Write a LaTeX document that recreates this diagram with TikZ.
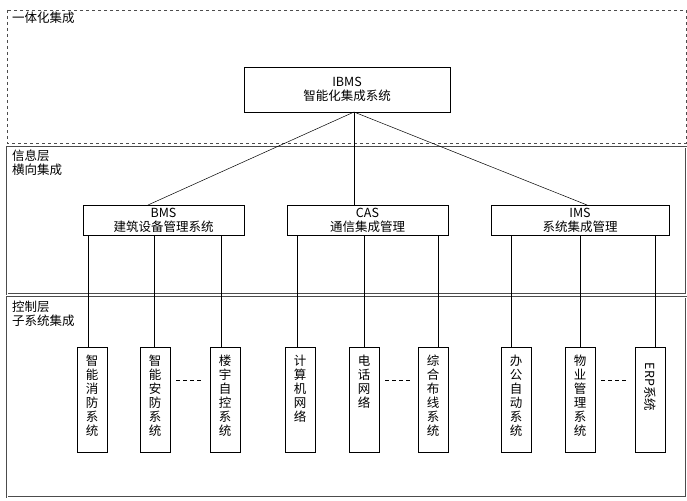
\documentclass[tikz,border=0pt]{standalone}
\usepackage{fontspec}
\newfontfamily\cjk{Noto Sans CJK SC}
\begin{document}
\begin{tikzpicture}[x=1pt,y=-1pt,font=\cjk\fontsize{12.5}{14}\selectfont,
 box/.style={draw,line width=0.6pt,inner sep=0pt,align=center},
 sub/.style={box,minimum width=30pt,minimum height=105pt,anchor=north},
 lay/.style={draw,line width=0.6pt,gray!60!black},
 lab/.style={anchor=north west,inner sep=0pt,align=left},
 con/.style={line width=0.5pt}]
\useasboundingbox (0,0) rectangle (687,500);
\draw[lay,dashed,line width=0.8pt] (7,10) rectangle (686,143);
\draw[lay,double,double distance=0.8pt] (7,147) rectangle (686,294);
\draw[lay,double,double distance=0.8pt] (7,297) rectangle (686,497);
\node[lab] (l1) at (12,12) {一体化集成};
\node[lab] (l2) at (12,150) {信息层\\横向集成};
\node[lab] (l3) at (12,301) {控制层\\子系统集成};
\node[box,minimum width=206pt,minimum height=45pt] (ibms) at (347,89.5) {IBMS\\智能化集成系统};
\node[box,minimum width=161pt,minimum height=30pt] (bms) at (163.5,220) {BMS\\建筑设备管理系统};
\node[box,minimum width=161pt,minimum height=30pt] (cas) at (367.5,220) {CAS\\通信集成管理};
\node[box,minimum width=178pt,minimum height=30pt] (ims) at (580,220) {IMS\\系统集成管理};
\draw[con] (354,112) -- (148,205);
\draw[con] (354,112) -- (354,205);
\draw[con] (354,112) -- (587,205);
\foreach \n/\x/\lx/\t in {a/92/88/智\\能\\消\\防\\系\\统, b/155/154/智\\能\\安\\防\\系\\统, c/225/221/楼\\宇\\自\\控\\系\\统,
 d/300/297/计\\算\\机\\网\\络, e/364/364/电\\话\\网\\络, f/433/438/综\\合\\布\\线\\系\\统,
 g/516/511/办\\公\\自\\动\\系\\统, h/580/580/物\\业\\管\\理\\系\\统}{
 \node[sub] (\n) at (\x,347) {};
 \node[anchor=north,inner sep=0pt,align=center] at (\x,355) {\t};
 \draw[con] (\lx,235) -- (\lx,347);
}
\node[sub] (i) at (650,347) {};
\node[rotate=-90,inner sep=0pt] (it) at (650,387) {ERP系统};
\draw[con] (655,235) -- (655,347);
\foreach \u/\v in {b/c,e/f,h/i}{\draw[con,dashed,dash pattern=on 4pt off 3pt] ([xshift=6pt,yshift=-33pt]\u.north east) -- ([xshift=-6pt,yshift=-33pt]\v.north west);}
\end{tikzpicture}
\end{document}
